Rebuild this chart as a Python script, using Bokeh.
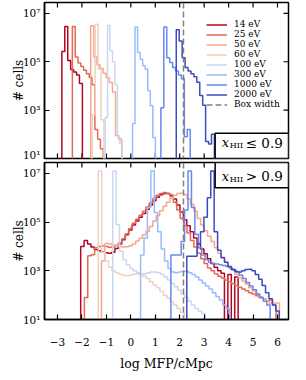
import numpy as np
from bokeh.plotting import figure
from bokeh.models import Range1d, FixedTicker, Label
from bokeh.layouts import column
from bokeh.embed import file_html
from bokeh.resources import INLINE

energies = ["14 eV", "25 eV", "50 eV", "60 eV", "100 eV", "300 eV", "1000 eV", "2000 eV"]
box_width_log = 2.14  # log10 of box width in cMpc

# ---- top panel: x_HII <= 0.9  (log10 of cell counts per bin) ----
neutral_start = [-2.82, -2.39, -1.64, -1.58, -1.05, 0.07, 1.23, 1.86]
neutral_dx = [0.12, 0.115, 0.127, 0.12, 0.1, 0.104, 0.12, 0.12]
neutral_14 = [5.42, 6.46, 5.05, 4.68, 4.58, 4.45, 4.1]
neutral_25 = [6.46, 5.2, 4.95, 4.8, 4.65, 4.5, 4.35, 4.05, 2.2, 1.8, 1.4]
neutral_50 = [6.49, 5.2, 4.88, 4.72, 4.52, 4.33, 4.14, 3.75, 1.95, 1.8]
neutral_60 = [2.8, 6.55, 4.7, 2.6]
neutral_100 = [2.7, 6.5, 5.45, 5.0, 4.05, 1.9, 1.6]
neutral_300 = [2.45, 6.44, 5.38, 5.1, 4.83, 4.69, 3.8, 3.18, 1.87]
neutral_1000 = [3.1, 6.44, 5.17, 4.97, 4.76, 4.62, 4.45, 4.3, 1.9, 2.2]
neutral_2000 = [6.32, 5.86, 5.17, 4.76, 4.62, 4.5, 4.38, 4.15, 3.6, 3.2, 1.7, 1.6, 2.0]

# ---- bottom panel: x_HII > 0.9 ----
ionized_start = [-2.05, -1.9, -1.2, -1.33, -0.74, 0.40, 1.64, 2.29]
ionized_dx = 0.14
ionized_14 = [4.0, 4.25, 4.1, 3.98, 3.88, 3.82, 3.77, 3.74, 3.72, 3.76, 3.92, 4.1, 4.28, 4.48,
              4.68, 4.88, 5.05, 5.2, 5.35, 5.52, 5.7, 5.88, 6.02, 6.12, 6.18, 6.18, 6.1, 5.95,
              5.7, 5.42, 5.1, 4.85, 4.6, 4.35, 4.12, 3.9, 3.7, 3.5, 3.3, 3.15, 3.0, 2.9, 0,
              2.85, 0, 2.75]
ionized_25 = [1.9, 3.62, 3.66, 3.95, 4.0, 4.02, 4.0, 3.97, 3.98, 4.04, 4.15, 4.32, 4.52, 4.74,
              4.95, 5.12, 5.28, 5.45, 5.62, 5.8, 5.97, 6.1, 6.18, 6.22, 6.18, 6.05, 5.82, 5.5,
              5.15, 4.85, 4.55, 4.25, 3.98, 3.72, 3.5, 3.3, 3.12, 3.0, 2.88, 2.78, 2.7, 2.62,
              2.55, 2.47, 2.4, 2.32, 2.25, 2.18, 2.1, 2.05, 1.98, 1.9, 1.85, 1.75, 1.8, 1.6]
ionized_50 = [3.4, 4.12, 4.1, 4.06, 4.03, 4.0, 3.98, 3.99, 4.03, 4.1, 4.22, 4.34, 4.48, 4.62,
              4.82, 5.05, 5.27, 5.47, 5.65, 5.82, 5.98, 6.1, 6.18, 6.2, 6.12, 5.95, 5.72, 5.45,
              5.15, 4.88, 4.65, 4.42, 4.2, 3.95, 3.72, 3.52, 3.35, 3.18, 3.02, 2.86, 2.72, 2.58,
              2.45, 2.3, 2.18, 2.05, 1.93, 1.85, 1.75, 1.68, 1.68, 1.68]
ionized_60 = [7.1, 3.75, 3.4, 3.15, 3.0, 2.92, 2.86, 2.82, 2.8, 2.82, 2.86, 2.88, 2.85, 2.78,
              2.68, 2.55, 2.42, 2.3, 2.15, 2.0, 1.88, 1.72, 1.6, 1.45, 1.3]
ionized_100 = [7.1, 4.9, 3.8, 3.45, 3.25, 3.1, 3.0, 2.92, 2.88, 2.88, 2.92, 2.95, 2.95, 2.92,
               2.85, 2.75, 2.62, 2.48, 2.35, 2.2, 2.05, 1.9, 1.75, 1.6, 1.45, 1.35, 1.25]
ionized_300 = [3.65, 4.35, 5.6, 7.1, 5.4, 4.6, 3.9, 3.4, 3.1, 2.95, 2.92, 2.95, 2.98, 2.97,
               2.92, 2.85, 2.75, 2.62, 2.5, 2.38, 2.25, 2.1, 1.95, 1.8, 1.6, 1.45]
ionized_1000 = [3.65, 3.65, 3.65, 4.2, 5.5, 7.1, 5.6, 4.5, 3.95, 3.65, 3.45, 3.35, 3.3, 3.28,
                3.25, 3.22, 3.18, 3.12, 3.05, 2.95, 2.82, 2.68, 2.52, 2.38, 2.22, 2.05, 1.9,
                1.75, 1.6]
ionized_2000 = [3.6, 3.6, 3.6, 4.1, 4.6, 5.2, 6.0, 7.1, 4.6, 3.85, 3.55, 3.35, 3.18, 3.05,
                2.97, 2.95, 3.0, 3.05, 3.06, 3.0, 2.85, 2.65, 2.4, 2.1, 1.85, 1.6, 1.35]

neutral_series = [neutral_14, neutral_25, neutral_50, neutral_60,
                  neutral_100, neutral_300, neutral_1000, neutral_2000]
ionized_series = [ionized_14, ionized_25, ionized_50, ionized_60,
                  ionized_100, ionized_300, ionized_1000, ionized_2000]

colors = ["#b40426", "#e26954", "#f7a88b", "#edd1c1", "#c9d8f0", "#9abaff", "#6889ee", "#3b4cc0"]

SERIF = "DejaVu Serif"
X_TICKS = [-3, -2, -1, 0, 1, 2, 3, 4, 5, 6]
Y_TICKS = [10, 1000, 100000, 10000000]
Y_LABELS = {10: "10¹", 1000: "10³", 100000: "10⁵", 10000000: "10⁷"}
X_LABELS = {-3: "−3", -2: "−2", -1: "−1"}
X_LO, X_HI = -3.53, 6.45
Y_LO, Y_HI = 10, 10 ** 7.45


def step_path(x0, dx, logn):
    n = len(logn)
    edges = x0 + dx * np.arange(n + 1)
    counts = 10.0 ** np.array(logn, dtype=float)
    xs = np.repeat(edges, 2)
    ys = np.concatenate([[1.0], np.repeat(counts, 2), [1.0]])
    return xs, ys


def style_axis(ax):
    ax.axis_line_color = "black"
    ax.axis_line_width = 1.5
    ax.major_tick_in = 5
    ax.major_tick_out = 0
    ax.major_tick_line_color = "black"
    ax.major_tick_line_width = 1.2
    ax.minor_tick_line_color = None
    ax.major_label_text_font = SERIF
    ax.major_label_text_font_size = "10.5px"
    ax.major_label_text_color = "black"
    ax.axis_label_text_font = SERIF
    ax.axis_label_text_font_style = "normal"
    ax.axis_label_text_color = "black"


def edge_ticks(p, sides):
    # inward tick marks on edges without a labelled axis (half-clipped dash markers)
    xs = np.array(X_TICKS, dtype=float)
    ys = np.array(Y_TICKS, dtype=float)
    if "top" in sides:
        p.scatter(xs, np.full(len(xs), Y_HI), marker="dash", size=10, angle=np.pi / 2,
                  line_color="black", line_width=1.2)
    if "bottom" in sides:
        p.scatter(xs, np.full(len(xs), Y_LO), marker="dash", size=10, angle=np.pi / 2,
                  line_color="black", line_width=1.2)
    if "right" in sides:
        p.scatter(np.full(len(ys), X_HI), ys, marker="dash", size=10,
                  line_color="black", line_width=1.2)


def make_fig(frame_h, bottom):
    p = figure(frame_width=244, frame_height=frame_h, y_axis_type="log",
               x_range=Range1d(X_LO, X_HI), y_range=Range1d(Y_LO, Y_HI),
               x_axis_location="below" if bottom else None,
               output_backend="svg", toolbar_location=None,
               min_border_left=44, min_border_right=4, min_border_top=2,
               min_border_bottom=2)
    p.grid.visible = False
    p.outline_line_color = "black"
    p.outline_line_width = 1.5
    p.background_fill_color = "white"

    p.yaxis.ticker = FixedTicker(ticks=Y_TICKS)
    for ax in p.yaxis:
        style_axis(ax)
    p.yaxis.major_label_overrides = Y_LABELS
    p.yaxis.axis_label = "# cells"
    p.yaxis.axis_label_text_font_size = "12px"
    p.yaxis.axis_label_standoff = -6
    p.yaxis.major_label_standoff = 4
    if bottom:
        p.xaxis.ticker = FixedTicker(ticks=X_TICKS)
        for ax in p.xaxis:
            style_axis(ax)
        p.xaxis.major_label_overrides = X_LABELS
        p.xaxis.axis_label = "log MFP/cMpc"
        p.xaxis.axis_label_text_font_size = "12.5px"
        p.xaxis.major_label_standoff = 18
        p.xaxis.axis_label_standoff = 7
        edge_ticks(p, ("top", "right"))
    else:
        edge_ticks(p, ("top", "bottom", "right"))
    return p


def add_annotation(p, box_bottom, box_top, text_y, op):
    p.quad(left=3.45, right=X_HI, bottom=box_bottom, top=box_top,
           fill_color="white", fill_alpha=1.0, line_color="black", line_width=1.5)
    p.add_layout(Label(x=3.72, y=text_y, text="x", text_font=SERIF,
                       text_font_style="italic", text_font_size="13px",
                       text_baseline="middle", text_color="black"))
    p.add_layout(Label(x=3.72, y=text_y, x_offset=8, y_offset=-3, text="HII",
                       text_font=SERIF, text_font_size="8px",
                       text_baseline="middle", text_color="black"))
    p.add_layout(Label(x=3.72, y=text_y, x_offset=24, text=op + " 0.9", text_font=SERIF,
                       text_font_size="13.5px", text_baseline="middle",
                       text_color="black"))


# ---- top panel ----
p1 = make_fig(156, False)
for name, start, dx, logn, col in zip(energies, neutral_start, neutral_dx, neutral_series, colors):
    xs, ys = step_path(start, dx, logn)
    p1.line(xs, ys, line_color=col, line_width=1.5, legend_label=name)
p1.vspan(x=[box_width_log], line_color="grey", line_width=1.5, line_dash="6 3",
         legend_label="Box width")
p1.legend.location = (162, 49)
p1.legend.background_fill_alpha = 0
p1.legend.border_line_color = None
p1.legend.label_text_font = SERIF
p1.legend.label_text_font_size = "9px"
p1.legend.label_text_color = "black"
p1.legend.glyph_width = 21
p1.legend.glyph_height = 9
p1.legend.label_height = 9
p1.legend.label_standoff = 7
p1.legend.spacing = 0
p1.legend.padding = 6
p1.legend.margin = 0
add_annotation(p1, Y_LO, 111, 45.7, "≤")

# ---- bottom panel ----
p2 = make_fig(157, True)
for start, logn, col in zip(ionized_start, ionized_series, colors):
    xs, ys = step_path(start, ionized_dx, logn)
    p2.line(xs, ys, line_color=col, line_width=1.5)
p2.vspan(x=[box_width_log], line_color="grey", line_width=1.5, line_dash="6 3")
add_annotation(p2, 2.6e6, Y_HI, 7.8e6, ">")

layout = column(p1, p2, spacing=0)
open("out.html", "w").write(file_html(layout, INLINE))
